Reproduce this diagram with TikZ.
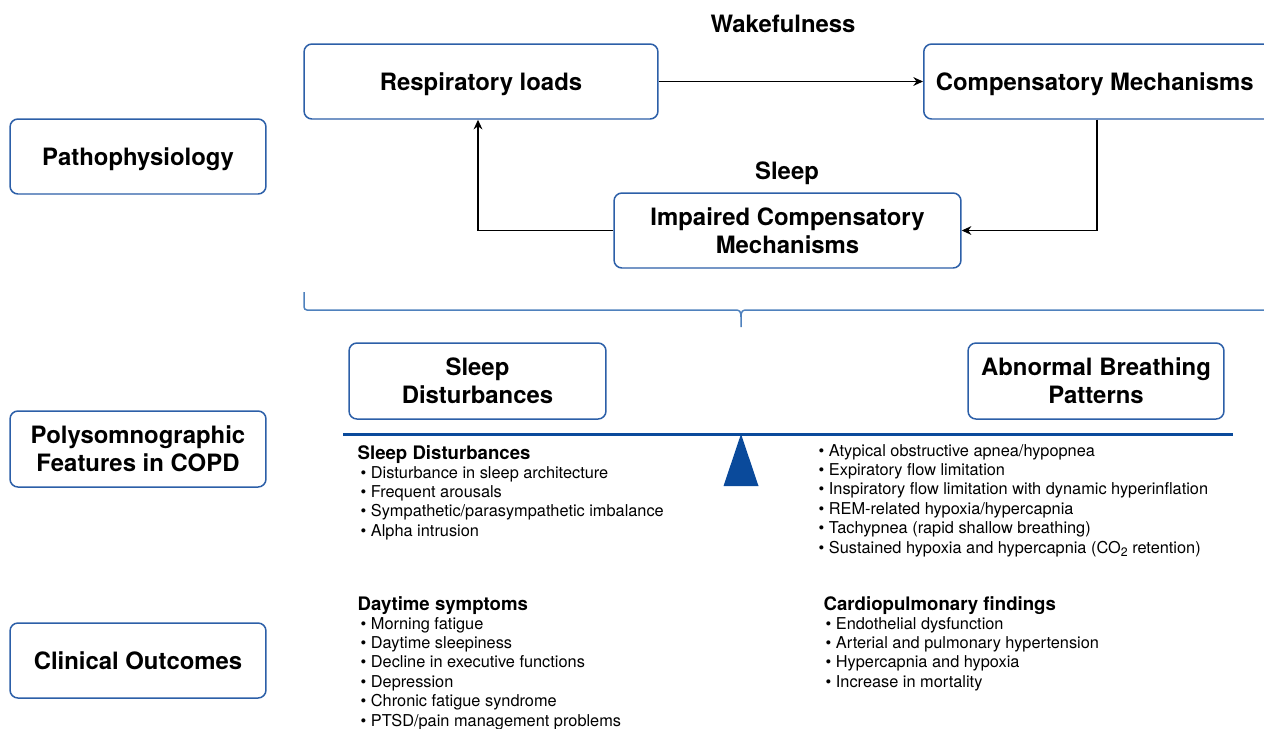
\documentclass[tikz,border=0pt]{standalone}
\usepackage{fontspec}
\setmainfont{TeX Gyre Heros}
\usetikzlibrary{arrows.meta,positioning}

\definecolor{boxblue}{HTML}{2C5FA8}
\definecolor{bracketblue}{HTML}{4F81BD}
\definecolor{beamblue}{HTML}{0A4A9B}

\tikzset{
  box/.style={draw=boxblue,line width=0.85pt,rounded corners=4.5pt,fill=white,
    align=center,inner sep=0pt,font=\fontsize{13.6}{16}\selectfont\bfseries},
  oneline/.style={text depth=0pt},
  stage/.style={inner sep=0pt,font=\fontsize{13.6}{16}\selectfont\bfseries},
  listhead/.style={anchor=base west,inner sep=0pt,font=\fontsize{10.6}{12}\selectfont\bfseries},
  listitem/.style={anchor=base west,inner sep=0pt,font=\fontsize{9.3}{11}\selectfont},
}

\begin{document}
\begin{tikzpicture}[x=0.02cm,y=-0.02cm,->,>={Stealth[length=5.5pt,width=5pt]},line width=0.75pt]
  \useasboundingbox (0,0) rectangle (1264,728);

  % row titles
  \node[box,oneline,minimum width=5.12cm,minimum height=1.5cm] (patho) at (138,156.5) {Pathophysiology};
  \node[box,minimum width=5.12cm,minimum height=1.52cm] (psg) at (138,449) {Polysomnographic\\Features in COPD};
  \node[box,minimum width=5.12cm,minimum height=1.5cm] (clin) at (138,660.5) {Clinical Outcomes};

  % loop between loads and compensation
  \node[stage] (wake) at (783,24) {Wakefulness};
  \node[box,oneline,minimum width=7.08cm,minimum height=1.5cm] (loads) at (481,81.5) {Respiratory loads};
  \node[box,oneline,minimum width=7.04cm,minimum height=1.5cm,anchor=west] (comp) at (923,81.5) {\hspace*{-0.2cm}Compensatory Mechanisms};
  \node[stage] (sleep) at (787,173.5) {Sleep};
  \node[box,minimum width=6.94cm,minimum height=1.5cm] (impair) at (787.5,230.5) {Impaired Compensatory\\Mechanisms};

  \path (loads) edge (comp);
  \draw (comp.south -| 1097,0) |- (impair.east);
  \draw (impair.west) -| (loads.south -| 478,0);

  % brace
  \draw[-,bracketblue,line width=0.85pt] (304,292) -- (304,307) to[out=-90,in=180] (307,310) -- (735,310)
    .. controls (739.5,310) and (741,311) .. (741,317) -- (741,327);
  \draw[-,bracketblue,line width=0.85pt] (741,317) .. controls (741,311) and (742.5,310) .. (747,310) -- (1264,310);

  % balance
  \node[box,minimum width=5.14cm,minimum height=1.52cm] (sdist) at (477.5,381) {Sleep\\Disturbances};
  \node[box,minimum width=5.12cm,minimum height=1.52cm] (abnorm) at (1096,381) {Abnormal Breathing\\Patterns};
  \draw[-,beamblue,line width=1.7pt] (343,434) -- (1233,434);
  \fill[beamblue] (741,434) -- (758.5,486) -- (723.5,486) -- cycle;

  % polysomnographic lists
  \node[listhead] (sdhead) at (357,459.5) {Sleep Disturbances};
  \foreach \txt [count=\i] in {Disturbance in sleep architecture,Frequent arousals,
      Sympathetic/parasympathetic imbalance,Alpha intrusion}
    \node[listitem] (sd\i) at (360,{478+19.4*(\i-1)}) {\textbullet\ \txt};
  \foreach \txt [count=\i] in {Atypical obstructive apnea/hypopnea,Expiratory flow limitation,
      Inspiratory flow limitation with dynamic hyperinflation,REM-related hypoxia/hypercapnia,
      Tachypnea (rapid shallow breathing),
      Sustained hypoxia and hypercapnia (CO\raisebox{-0.45ex}{\scriptsize 2} retention)}
    \node[listitem] (ab\i) at (818,{456+19.4*(\i-1)}) {\textbullet\ \txt};

  % clinical outcome lists
  \node[listhead] (dayhead) at (357,610.5) {Daytime symptoms};
  \foreach \txt [count=\i] in {Morning fatigue,Daytime sleepiness,Decline in executive functions,
      Depression,Chronic fatigue syndrome,PTSD/pain management problems}
    \node[listitem] (day\i) at (360,{629+19.4*(\i-1)}) {\textbullet\ \txt};
  \node[listhead] (cphead) at (823,610.5) {Cardiopulmonary findings};
  \foreach \txt [count=\i] in {Endothelial dysfunction,Arterial and pulmonary hypertension,
      Hypercapnia and hypoxia,Increase in mortality}
    \node[listitem] (cp\i) at (825,{629+19.4*(\i-1)}) {\textbullet\ \txt};
\end{tikzpicture}
\end{document}
